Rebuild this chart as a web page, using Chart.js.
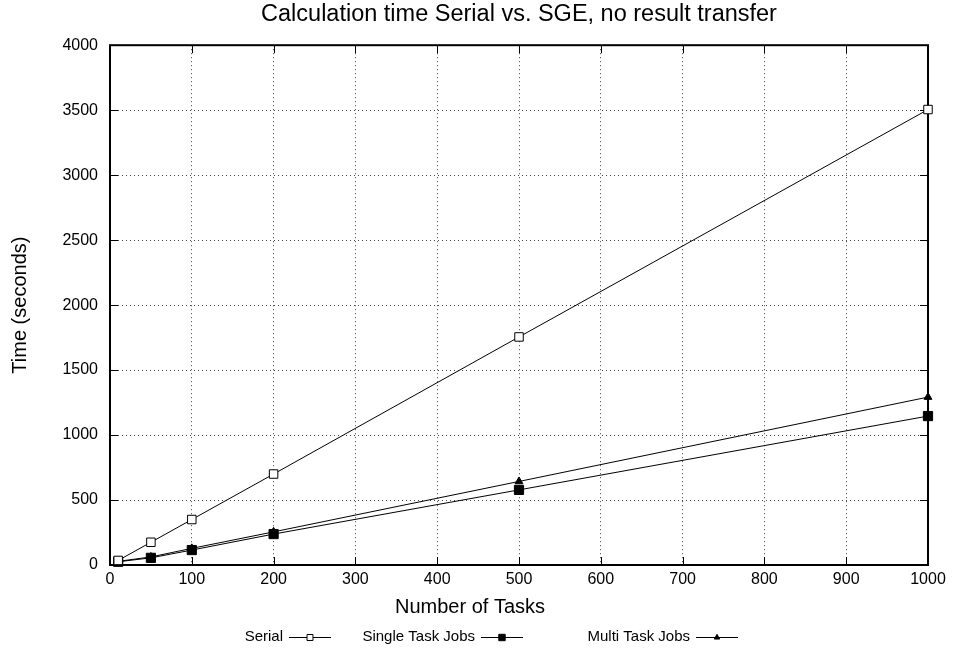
<!DOCTYPE html>
<html>
<head>
<meta charset="utf-8">
<script src="https://cdn.jsdelivr.net/npm/chart.js@4/dist/chart.umd.min.js"></script>
<style>
  html, body { margin: 0; padding: 0; background: #fff; }
  canvas { display: block; }
</style>
</head>
<body>
<canvas id="chart" width="954" height="652"></canvas>
<script>
// data
const tasks = [10, 50, 100, 200, 500, 1000];
const serial = [35, 175, 350, 700, 1755, 3505];
const singleJobs = [25, 55, 115, 238, 578, 1146];
const multiJobs = [28, 62, 128, 255, 643, 1292];
const seriesNames = ["Serial", "Single Task Jobs", "Multi Task Jobs"];

const FONT = "'Liberation Sans', Arial, sans-serif";

const toPoints = (ys) => tasks.map((x, i) => ({ x: x, y: ys[i] }));

// frame + inward tick marks, like gnuplot
const framePlugin = {
  id: "frame",
  beforeDatasetsDraw(chart) {
    const { ctx, chartArea: a } = chart;
    const xs = chart.scales.x, ys = chart.scales.y;
    const len = 8;
    ctx.save();
    ctx.strokeStyle = "#000";
    ctx.lineWidth = 1;
    ctx.beginPath();
    xs.ticks.forEach((t) => {
      const px = Math.round(xs.getPixelForValue(t.value)) + 0.5;
      ctx.moveTo(px, a.bottom); ctx.lineTo(px, a.bottom - len);
      ctx.moveTo(px, a.top); ctx.lineTo(px, a.top + len);
    });
    ys.ticks.forEach((t) => {
      const py = Math.round(ys.getPixelForValue(t.value)) + 0.5;
      ctx.moveTo(a.left, py); ctx.lineTo(a.left + len, py);
      ctx.moveTo(a.right, py); ctx.lineTo(a.right - len, py);
    });
    ctx.stroke();
    ctx.lineWidth = 2;
    ctx.strokeRect(a.left, a.top, a.right - a.left, a.bottom - a.top);
    ctx.restore();
  },
  afterDraw(chart) {
    const { ctx } = chart;
    ctx.save();
    ctx.fillStyle = "#000";
    // x axis title, gnuplot puts it centred on the canvas
    ctx.font = "20px " + FONT;
    ctx.textAlign = "center";
    ctx.textBaseline = "middle";
    ctx.fillText("Number of Tasks", 470, 607);

    // legend: text then sample
    const rights = [283, 475, 690];
    ctx.font = "15px " + FONT;
    chart.data.datasets.forEach((ds, i) => {
      const x = rights[i], y = 637;
      ctx.textAlign = "right";
      ctx.fillStyle = "#000";
      ctx.fillText(ds.label, x, y);
      ctx.strokeStyle = "#000";
      ctx.lineWidth = 1;
      ctx.beginPath();
      ctx.moveTo(x + 6, y + 0.5);
      ctx.lineTo(x + 48, y + 0.5);
      ctx.stroke();
      ctx.fillStyle = ds.pointBackgroundColor;
      Chart.helpers.drawPoint(ctx, {
        pointStyle: ds.pointStyle,
        radius: ds.pointRadius * 0.7,
        borderWidth: 1,
        rotation: 0
      }, x + 27, y + 0.5);
    });
    ctx.restore();
  }
};

const baseSeries = {
  borderColor: "#000",
  borderWidth: 1,
  pointBorderColor: "#000",
  pointBorderWidth: 1,
  tension: 0,
  clip: false
};

new Chart(document.getElementById("chart"), {
  type: "line",
  data: {
    datasets: [
      Object.assign({}, baseSeries, {
        label: seriesNames[0], data: toPoints(serial),
        pointStyle: "rect", pointRadius: 6, pointBackgroundColor: "#fff"
      }),
      Object.assign({}, baseSeries, {
        label: seriesNames[1], data: toPoints(singleJobs),
        pointStyle: "rect", pointRadius: 6.5, pointBackgroundColor: "#000"
      }),
      Object.assign({}, baseSeries, {
        label: seriesNames[2], data: toPoints(multiJobs),
        pointStyle: "triangle", pointRadius: 4.5, pointBackgroundColor: "#000"
      })
    ]
  },
  options: {
    responsive: false,
    animation: false,
    layout: { padding: { left: 4, right: 26, top: 0, bottom: 29 } },
    plugins: {
      legend: { display: false },
      tooltip: { enabled: false },
      title: {
        display: true,
        fullSize: false,
        text: "Calculation time Serial vs. SGE, no result transfer",
        color: "#000",
        font: { family: FONT, size: 23.5, weight: "normal" },
        padding: { top: 0, bottom: 17 }
      }
    },
    scales: {
      x: {
        type: "linear",
        min: 0, max: 1000,
        afterFit(s) { s.height = 58; },
        border: { display: false, dash: [1, 3] },
        grid: { color: "#444", lineWidth: 1, drawTicks: false },
        ticks: {
          stepSize: 100, padding: 5, color: "#000", maxRotation: 0,
          font: { family: FONT, size: 16 },
          callback: (v) => String(v)
        },
        title: { display: false }
      },
      y: {
        min: 0, max: 4000,
        afterFit(s) { s.width = 106; },
        border: { display: false, dash: [1, 3] },
        grid: { color: "#444", lineWidth: 1, drawTicks: false },
        ticks: {
          stepSize: 500, padding: 12, color: "#000",
          font: { family: FONT, size: 16 },
          callback: (v) => String(v)
        },
        title: {
          display: true, text: "Time (seconds)", color: "#000",
          font: { family: FONT, size: 20 },
          padding: { top: 4, bottom: 4 }
        }
      }
    }
  },
  plugins: [framePlugin]
});
</script>
</body>
</html>
